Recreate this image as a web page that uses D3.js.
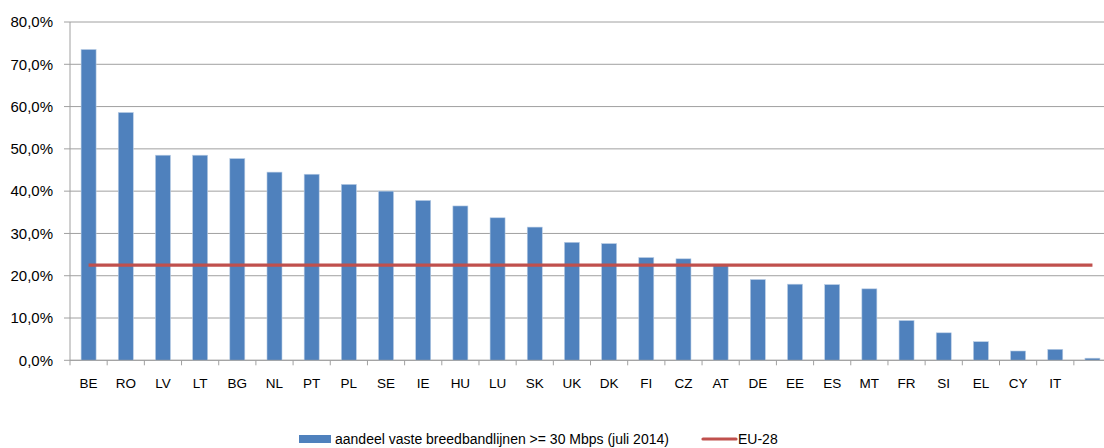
<!DOCTYPE html>
<html>
<head>
<meta charset="utf-8">
<script src="https://cdn.jsdelivr.net/npm/d3@7"></script>
<style>
  body { margin: 0; background: #fff; }
  svg { display: block; font-family: "Liberation Sans", Arial, sans-serif; }
</style>
</head>
<body>
<script>
// categories, values (share of fixed lines >= 30 Mbps) and EU-28 average
const countries = ['BE', 'RO', 'LV', 'LT', 'BG', 'NL', 'PT', 'PL', 'SE', 'IE', 'HU', 'LU', 'SK', 'UK',
                   'DK', 'FI', 'CZ', 'AT', 'DE', 'EE', 'ES', 'MT', 'FR', 'SI', 'EL', 'CY', 'IT', ''];
const shares = [0.735, 0.586, 0.485, 0.485, 0.477, 0.445, 0.440, 0.416, 0.400, 0.378, 0.365, 0.337, 0.315, 0.279,
                0.276, 0.243, 0.240, 0.227, 0.191, 0.180, 0.179, 0.169, 0.094, 0.065, 0.044, 0.022, 0.026, 0.005];
const eu28 = 0.225;
const yTicks = [0, 0.1, 0.2, 0.3, 0.4, 0.5, 0.6, 0.7, 0.8];
const barLabel = 'aandeel vaste breedbandlijnen >= 30 Mbps (juli 2014)';
const lineLabel = 'EU-28';

const width = 1104, height = 448;
const margin = { top: 22, left: 70 };
const plotBottom = 360.3;
const bandW = 37.18;
const plotRight = margin.left + bandW * countries.length;

const nl = d3.formatLocale({ decimal: ',', thousands: '.', grouping: [3], currency: ['€', ''] });
const pct = nl.format('.1%');

const svg = d3.select('body').append('svg')
    .attr('width', width)
    .attr('height', height);

const x = d3.scaleBand()
    .domain(countries)
    .range([margin.left, plotRight]);

const y = d3.scaleLinear()
    .domain([0, 0.8])
    .range([plotBottom, margin.top]);

// gridlines
svg.append('g')
  .selectAll('line')
    .data(yTicks)
    .enter()
  .append('line')
    .attr('x1', margin.left - 6)
    .attr('x2', plotRight)
    .attr('y1', d => y(d))
    .attr('y2', d => y(d))
    .attr('stroke', '#a0a0a0')
    .attr('stroke-width', 1);

// y labels
svg.append('g')
  .selectAll('text')
    .data(yTicks)
    .enter()
  .append('text')
    .attr('x', 53)
    .attr('y', d => y(d))
    .attr('dy', '0.35em')
    .attr('text-anchor', 'end')
    .attr('font-size', 15)
    .attr('fill', '#000')
    .text(d => pct(d));

// bars
const barW = 15;
svg.append('g')
  .selectAll('rect')
    .data(shares)
    .enter()
  .append('rect')
    .attr('x', (d, i) => x(countries[i]) + (x.bandwidth() - barW) / 2)
    .attr('y', d => y(d))
    .attr('width', barW)
    .attr('height', d => y(0) - y(d))
    .attr('fill', '#4f81bd')
    .attr('stroke', '#b9cde5')
    .attr('stroke-width', 0.6);

// axes lines
svg.append('line')
    .attr('x1', margin.left).attr('x2', margin.left)
    .attr('y1', y(0.8)).attr('y2', plotBottom + 5)
    .attr('stroke', '#a0a0a0');
svg.append('line')
    .attr('x1', margin.left).attr('x2', plotRight)
    .attr('y1', plotBottom).attr('y2', plotBottom)
    .attr('stroke', '#a0a0a0');

// x ticks at band boundaries
svg.append('g')
  .selectAll('line')
    .data(countries)
    .enter()
  .append('line')
    .attr('x1', d => x(d) + x.bandwidth())
    .attr('x2', d => x(d) + x.bandwidth())
    .attr('y1', plotBottom)
    .attr('y2', plotBottom + 5)
    .attr('stroke', '#a0a0a0');

// x labels
svg.append('g')
  .selectAll('text')
    .data(countries)
    .enter()
  .append('text')
    .attr('x', d => x(d) + x.bandwidth() / 2)
    .attr('y', 388)
    .attr('text-anchor', 'middle')
    .attr('font-size', 13.5)
    .attr('fill', '#000')
    .text(d => d);

// EU-28 line across category centres
const line = d3.line()
    .x((d, i) => x(countries[i]) + x.bandwidth() / 2)
    .y(() => y(eu28));
svg.append('path')
    .datum(countries)
    .attr('d', line)
    .attr('fill', 'none')
    .attr('stroke', '#c0504d')
    .attr('stroke-width', 3.2);

// legend (kept just inside the bottom edge)
const legend = svg.append('g');
legend.append('rect')
    .attr('x', 299).attr('y', 435)
    .attr('width', 32).attr('height', 8)
    .attr('fill', '#4f81bd');
legend.append('text')
    .attr('x', 335).attr('y', 444)
    .attr('font-size', 14)
    .text(barLabel);
legend.append('line')
    .attr('x1', 703).attr('x2', 736)
    .attr('y1', 439).attr('y2', 439)
    .attr('stroke', '#c0504d')
    .attr('stroke-width', 3.2)
    .attr('stroke-linecap', 'round');
legend.append('text')
    .attr('x', 738).attr('y', 444)
    .attr('font-size', 14)
    .text(lineLabel);
</script>
</body>
</html>
